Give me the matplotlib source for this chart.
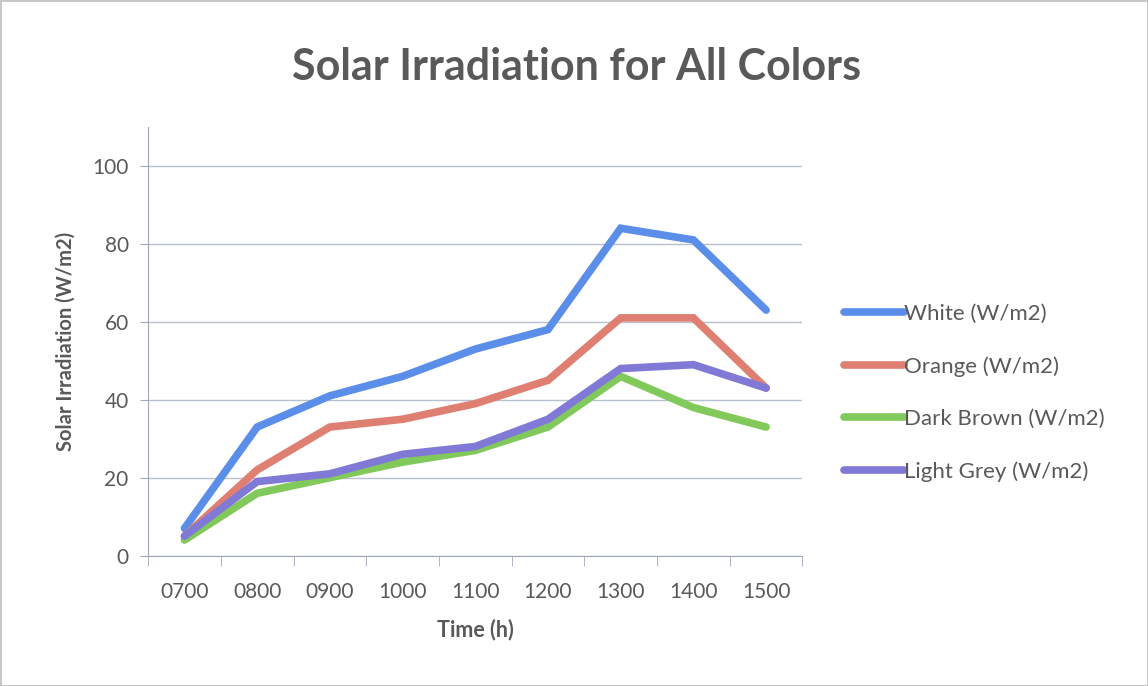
import matplotlib.pyplot as plt
from matplotlib.ticker import FixedLocator

hours = ["0700", "0800", "0900", "1000", "1100", "1200", "1300", "1400", "1500"]
white = [7, 33, 41, 46, 53, 58, 84, 81, 63]
orange = [5, 22, 33, 35, 39, 45, 61, 61, 43]
dark_brown = [4, 16, 20, 24, 27, 33, 46, 38, 33]
light_grey = [5, 19, 21, 26, 28, 35, 48, 49, 43]

series = [
    ("White (W/m2)", white, "#5a8ee8"),
    ("Orange (W/m2)", orange, "#df7f72"),
    ("Dark Brown (W/m2)", dark_brown, "#80c95a"),
    ("Light Grey (W/m2)", light_grey, "#8079d6"),
]

plt.rcParams['font.family'] = ['Lato', 'DejaVu Sans']
text_col = "#595959"

fig = plt.figure(figsize=(11.48, 6.86), dpi=100)
fig.patch.set_edgecolor("#c8c8c8")
fig.patch.set_linewidth(2)
ax = fig.add_axes([0.129, 0.19, 0.570, 0.625])

x = list(range(len(hours)))
for name, vals, col in series:
    ax.plot(x, vals, color=col, lw=5.5, label=name, solid_joinstyle="miter", solid_capstyle="round")

ax.set_xlim(-0.5, len(hours) - 0.5)
ax.set_ylim(0, 110)
ax.set_yticks(range(0, 101, 20))
ax.set_xticks(x)
ax.set_xticklabels(hours)
ax.xaxis.set_minor_locator(FixedLocator([i - 0.5 for i in range(len(hours) + 1)]))
ax.tick_params(axis="x", which="major", length=0, pad=19, labelsize=15, labelcolor=text_col)
ax.tick_params(axis="x", which="minor", length=7, color="#a0a8b8")
ax.tick_params(axis="y", length=6, color="#a0a8b8", labelsize=15, labelcolor=text_col, pad=8)

ax.grid(axis="y", color="#b8c0d0", lw=1)
ax.set_axisbelow(True)
for s in ["top", "right"]:
    ax.spines[s].set_visible(False)
for s in ["left", "bottom"]:
    ax.spines[s].set_color("#a0a8b8")

ax.set_xlabel("Time (h)", fontsize=15.5, fontweight="bold", color=text_col, labelpad=12)
ax.set_ylabel("Solar Irradiation (W/m2)", fontsize=14.5, fontweight="bold", color=text_col, labelpad=12)
fig.text(0.502, 0.902, "Solar Irradiation for All Colors", ha="center", va="center",
         fontsize=31, fontweight="bold", color=text_col)

ax.legend(loc="center left", bbox_to_anchor=(1.064, 0.38), frameon=False, fontsize=16,
          borderaxespad=0, borderpad=0,
          handlelength=2.7, handletextpad=0.0, labelspacing=1.45, labelcolor=text_col)

fig.savefig("out.png", dpi=100)
